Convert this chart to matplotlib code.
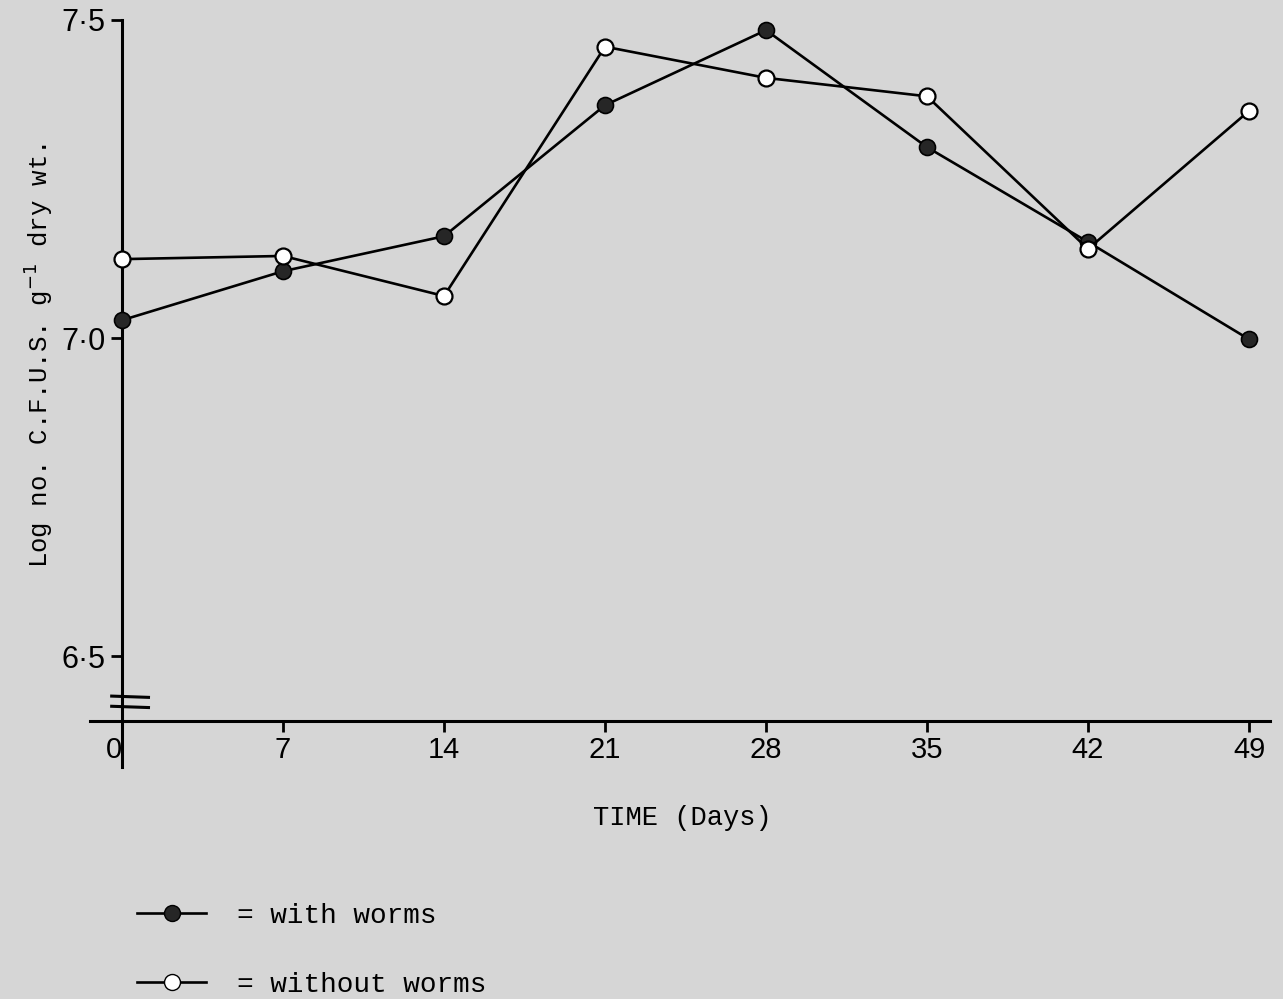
import matplotlib
matplotlib.use('Agg')
import matplotlib.pyplot as plt
from matplotlib.lines import Line2D

days = [0, 7, 14, 21, 28, 35, 42, 49]
with_worms = [7.028, 7.105, 7.160, 7.366, 7.484, 7.300, 7.151, 6.998]
without_worms = [7.124, 7.129, 7.066, 7.458, 7.409, 7.380, 7.140, 7.357]
y_ticks = [6.5, 7.0, 7.5]
y_tick_labels = ['6\u00b75', '7\u00b70', '7\u00b75']
series_labels = ['= with worms', '= without worms']

bg = '#d6d6d6'
mono = 'Liberation Mono'
sans = 'Liberation Sans'

fig = plt.figure(figsize=(12.83, 9.99), dpi=100, facecolor=bg)
ax = fig.add_axes([88/1283, 1 - 770/999, (1275 - 88)/1283, 760/999])
ax.set_facecolor('none')
ax.set_xlim(-1.48, 50.13)
ax.set_ylim(6.3208, 7.5157)

ax.plot(days, with_worms, color='black', lw=1.9, marker='o', ms=11.5,
        mfc='#262626', mec='black', mew=1.2, zorder=3)
ax.plot(days, without_worms, color='black', lw=1.9, marker='o', ms=11.5,
        mfc='white', mec='black', mew=1.6, zorder=4)

# axes drawn like the hand-made original
ax.spines['top'].set_visible(False)
ax.spines['right'].set_visible(False)
ax.spines['left'].set_position(('data', 0))
ax.spines['left'].set_bounds(6.326, 7.5)
ax.spines['bottom'].set_position(('data', 6.398))
ax.spines['bottom'].set_bounds(-1.4, 49.9)
for s in ['left', 'bottom']:
    ax.spines[s].set_linewidth(2.2)

ax.set_yticks(y_ticks)
ax.set_yticklabels(y_tick_labels, fontsize=22, fontfamily=sans)
ax.tick_params(axis='y', direction='out', length=8, width=2, pad=4)
ax.set_xticks(days)
ax.set_xticklabels([str(d) for d in days], fontsize=21, fontfamily=sans)
ax.tick_params(axis='x', direction='out', length=8, width=2, pad=3)
ax.get_xticklabels()[0].set_horizontalalignment('right')

# axis break marks
for yb in [6.435, 6.419]:
    ax.plot([-0.45, 1.15], [yb + 0.002, yb], color='black', lw=2.2, clip_on=False)

fig.text(38/1283, 1 - 355/999, 'Log no. C.F.U.S. g$^{-1}$ dry wt.', rotation=90,
         ha='center', va='center', fontsize=18.5, fontfamily=mono)
fig.text(682/1283, 1 - 818/999, 'TIME (Days)', ha='center', va='center',
         fontsize=19.5, fontfamily=mono)

handles = [Line2D([], [], color='black', lw=1.9, marker='o', ms=11.5, mfc='#262626', mec='black'),
           Line2D([], [], color='black', lw=1.9, marker='o', ms=11.5, mfc='white', mec='black')]
leg = fig.legend(handles, series_labels, loc='upper left',
                 bbox_to_anchor=(112/1283, 1 - 878/999), frameon=False,
                 prop={'family': mono, 'size': 20}, handlelength=2.5,
                 handletextpad=1.1, labelspacing=1.55)

fig.savefig('out.png', dpi=100, facecolor=bg)
